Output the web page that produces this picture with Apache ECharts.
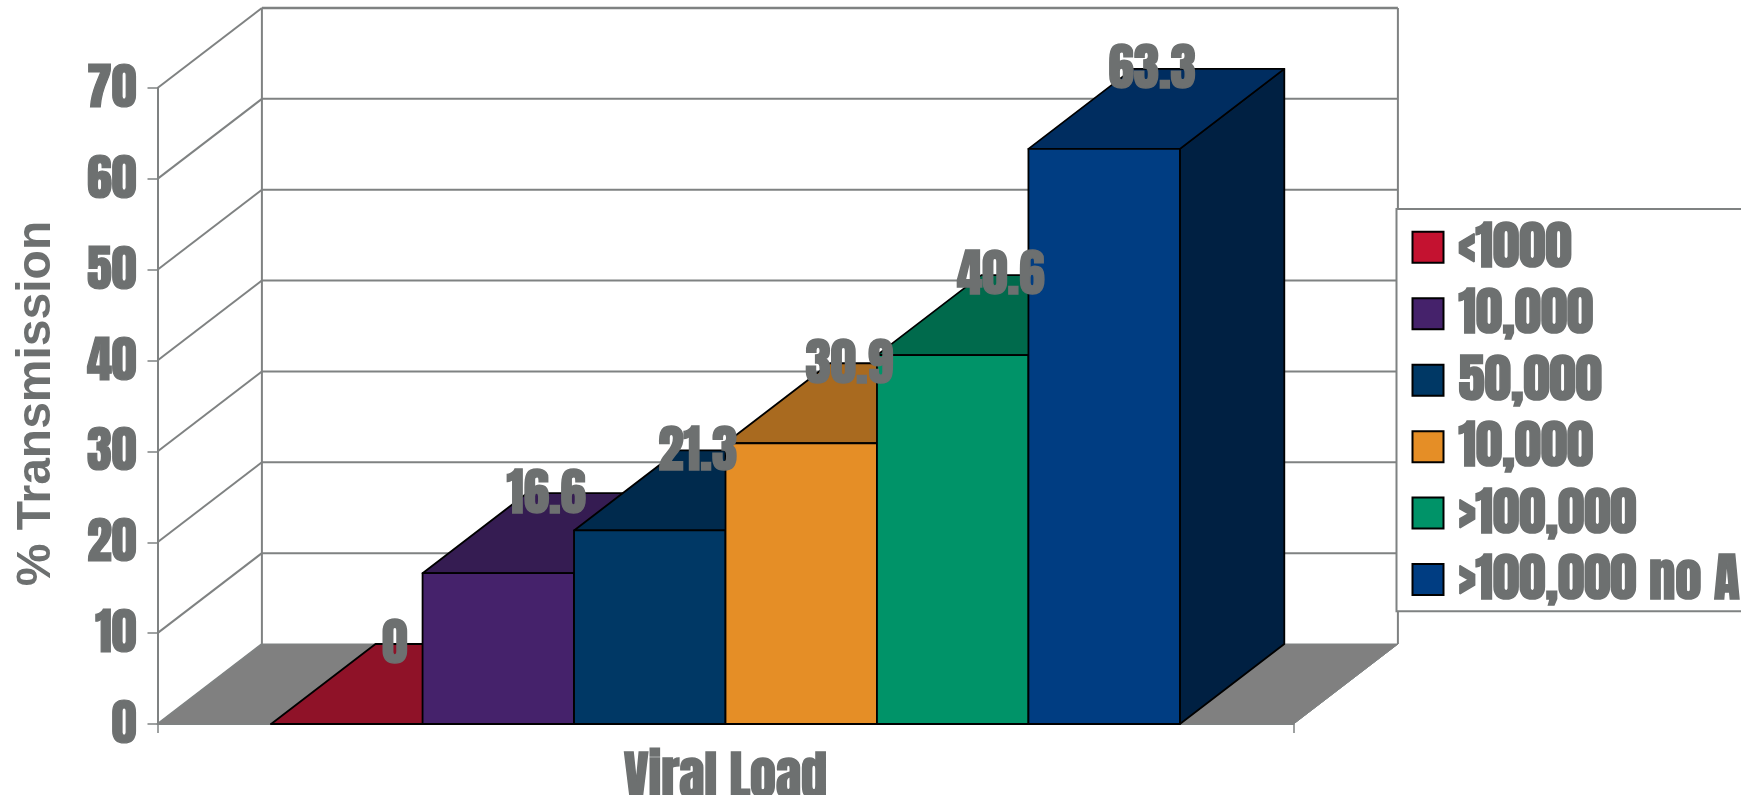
<!DOCTYPE html>
<html>
<head>
<meta charset="utf-8">
<title>Transmission by viral load</title>
<style>html,body{margin:0;padding:0;background:#fff;overflow:hidden}#chart{width:1741px;height:795px}</style>
<script src="https://cdn.jsdelivr.net/npm/echarts@6/dist/echarts.min.js"></script>
</head>
<body>
<div id="chart"></div>
<script>
// Data
const categories = ['Viral Load'];
const bandLabels = ['<1000', '10,000', '50,000', '10,000', '>100,000', '>100,000 no ART'];
const transmission = [0, 16.6, 21.3, 30.9, 40.6, 63.3];
const yTicks = [0, 10, 20, 30, 40, 50, 60, 70];

// Face colours for each bar
const frontColors = ['#c41230', '#45226b', '#003865', '#e58e26', '#009368', '#003d82'];
const topColors = ['#8f1228', '#351c52', '#002a4d', '#a96a1f', '#006a4c', '#002d60'];
const sideColors = ['#6b0d1e', '#27143d', '#001f3a', '#7f5017', '#004f39', '#002042'];

// Oblique projection of the box
const DEPTH_X = 104.4;
const DEPTH_Y = 80;
const GAP_SHARE = 0.75;      // empty space each side, in bar widths
const WALL_LINE = '#7f8282';
const INK = '#6d7070';
const HEAVY = 'Anton,"DejaVu Sans Condensed",sans-serif';

// Two series may carry the same caption, but legend entries are keyed by name
const seriesNames = bandLabels.map((l, i) => bandLabels.indexOf(l) === i ? l : l + ' ');

function renderWalls(params, api) {
  if (params.dataIndex !== 0) return null;
  const left = api.coord([0, 0])[0] - api.size([1, 0])[0] / 2;
  const right = left + api.size([1, 0])[0];
  const yOf = v => api.coord([0, v])[1];
  const line = (x1, y1, x2, y2, w) => ({
    type: 'line',
    shape: { x1, y1, x2, y2 },
    style: { stroke: WALL_LINE, lineWidth: w || 2 }
  });
  const children = [];
  const y0 = yOf(yTicks[0]);
  const yTop = yOf(yTicks[yTicks.length - 1]);
  children.push({
    type: 'polygon',
    shape: { points: [[left, y0], [left + DEPTH_X, y0 - DEPTH_Y], [right + DEPTH_X, y0 - DEPTH_Y], [right, y0]] },
    style: { fill: '#808080', stroke: WALL_LINE, lineWidth: 1 }
  });
  yTicks.forEach((t, i) => {
    const y = yOf(t);
    children.push(line(left, y, left + DEPTH_X, y - DEPTH_Y));
    if (i > 0) children.push(line(left + DEPTH_X, y - DEPTH_Y, right + DEPTH_X, y - DEPTH_Y, i === yTicks.length - 1 ? 2.5 : 2));
  });
  children.push(line(left + DEPTH_X, y0 - DEPTH_Y, left + DEPTH_X, yTop - DEPTH_Y));
  children.push(line(right + DEPTH_X, y0 - DEPTH_Y, right + DEPTH_X, yTop - DEPTH_Y));
  children.push(line(right, y0, right + DEPTH_X, y0 - DEPTH_Y, 1));
  return { type: 'group', children };
}

function renderBar(index) {
  return function (params, api) {
    const band = api.size([1, 0])[0];
    const base = api.coord([api.value(0), 0]);
    const peak = api.coord([api.value(0), api.value(1)]);
    const unit = band / (transmission.length + 2 * GAP_SHARE);
    const x0 = base[0] - band / 2 + unit * (GAP_SHARE + index);
    const x1 = x0 + unit;
    const yB = base[1];
    const yT = peak[1];
    const edge = { stroke: '#000', lineWidth: 1.8, lineJoin: 'round' };
    return {
      type: 'group',
      children: [
        { type: 'polygon', shape: { points: [[x1, yB], [x1 + DEPTH_X, yB - DEPTH_Y], [x1 + DEPTH_X, yT - DEPTH_Y], [x1, yT]] }, style: { fill: sideColors[index], ...edge } },
        { type: 'polygon', shape: { points: [[x0, yT], [x0 + DEPTH_X, yT - DEPTH_Y], [x1 + DEPTH_X, yT - DEPTH_Y], [x1, yT]] }, style: { fill: topColors[index], ...edge } },
        { type: 'rect', shape: { x: x0, y: yT, width: unit, height: yB - yT }, style: { fill: frontColors[index], ...edge } },
        {
          type: 'text',
          z2: 100,
          style: {
            x: (x0 + x1) / 2 + 48, y: yT - DEPTH_Y + 5,
            text: String(api.value(1)),
            align: 'center', verticalAlign: 'middle',
            font: '51px ' + HEAVY,
            fill: INK, stroke: INK, lineWidth: 1.5
          }
        }
      ]
    };
  };
}

const chart = echarts.init(document.getElementById('chart'), null, { renderer: 'canvas' });

chart.setOption({
  animation: false,
  backgroundColor: '#fff',
  grid: { left: 157.5, top: 88, width: 1136, height: 636, outerBoundsMode: 'none' },
  xAxis: {
    type: 'category',
    data: categories,
    axisLine: { lineStyle: { color: WALL_LINE, width: 2 } },
    axisTick: { show: true, length: 9, lineStyle: { color: WALL_LINE, width: 1.5 } },
    axisLabel: {
      margin: 22, color: INK, fontFamily: HEAVY, fontSize: 52,
      textBorderColor: INK, textBorderWidth: 1.5, padding: [10, 0, 0, 0]
    }
  },
  yAxis: {
    type: 'value',
    min: 0, max: 70, interval: 10,
    name: '% Transmission',
    nameLocation: 'middle',
    nameRotate: 90,
    nameGap: 97,
    nameTextStyle: { color: INK, fontFamily: '"Liberation Sans",sans-serif', fontWeight: 'bold', fontSize: 48, padding: [0, 0, 0, 5] },
    axisLine: { show: true, lineStyle: { color: WALL_LINE, width: 2 } },
    axisTick: { show: true, length: 10, lineStyle: { color: WALL_LINE, width: 1.5 } },
    splitLine: { show: false },
    axisLabel: {
      margin: 21, color: INK, fontFamily: HEAVY, fontSize: 50,
      textBorderColor: INK, textBorderWidth: 1.2,
      verticalAlign: 'top', lineHeight: 10
    }
  },
  legend: {
    orient: 'vertical',
    left: 1396.5, top: 209,
    padding: [7.3, 10, 0, 15],
    backgroundColor: '#fff',
    borderColor: WALL_LINE, borderWidth: 2,
    itemWidth: 31, itemHeight: 31, itemGap: 3.7,
    icon: 'rect',
    data: seriesNames,
    itemStyle: { borderColor: '#000', borderWidth: 2 },
    formatter: name => '{t|' + name + '}',
    textStyle: {
      rich: {
        t: {
          color: INK, fontFamily: HEAVY, fontSize: 53, lineHeight: 47,
          textBorderColor: INK, textBorderWidth: 1.5,
          padding: [9, 0, 0, 10]
        }
      }
    }
  },
  series: [
    {
      type: 'custom', name: 'walls', silent: true, clip: false, z: 1,
      data: [[0, 0]], encode: { x: 0, y: 1 },
      renderItem: renderWalls
    }
  ].concat(transmission.map((v, i) => ({
    type: 'custom',
    name: seriesNames[i],
    clip: false,
    z: 2,
    itemStyle: { color: frontColors[i] },
    data: [[0, v]],
    encode: { x: 0, y: 1 },
    renderItem: renderBar(i)
  })))
});
</script>
</body>
</html>
